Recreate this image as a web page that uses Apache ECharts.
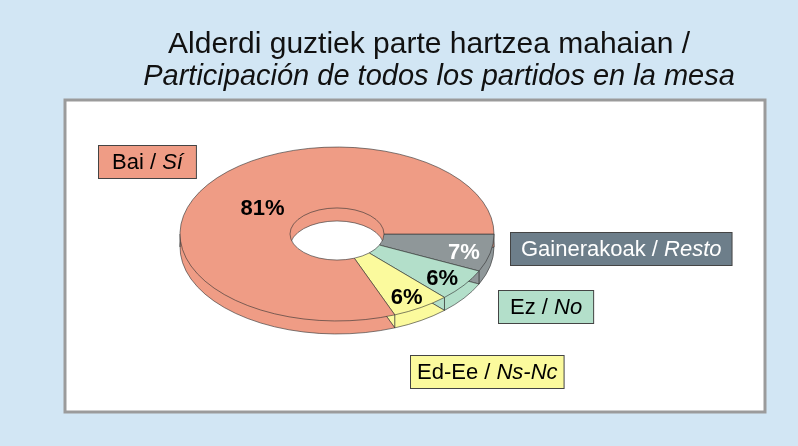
<!DOCTYPE html>
<html>
<head>
<meta charset="utf-8">
<script src="https://cdn.jsdelivr.net/npm/echarts@6/dist/echarts.min.js"></script>
<style>
  html, body { margin: 0; padding: 0; background: #d2e6f4; }
  #chart { width: 798px; height: 446px; }
</style>
</head>
<body>
<div id="chart"></div>
<script>
// slices, clockwise from 3 o'clock
const namesEu = ['Gainerakoak', 'Ez', 'Ed-Ee', 'Bai']
const namesEs = ['Resto', 'No', 'Ns-Nc', 'Sí']
const values = [7, 6, 6, 81]
const colors = ['#8f9799', '#b3dfca', '#fbfa9d', '#ef9c85']
const labelColors = ['#ffffff', '#000000', '#000000', '#000000']

const total = values.reduce((a, b) => a + b, 0)

// donut geometry (tilted ellipse)
const cx = 337, cy = 234, R = 157, r0 = 47
const tilt = 0.554
const depth = 13

function angles(i) {
  let before = 0
  for (let k = 0; k < i; k++) before += values[k]
  const a0 = before / total * Math.PI * 2
  const a1 = (before + values[i]) / total * Math.PI * 2
  return [a0, a1]
}

function sideItem(params, api) {
  const i = params.dataIndex
  const [a0, a1] = angles(i)
  const children = [{
    type: 'group',
    x: cx, y: cy + depth, scaleY: tilt,
    children: [{
      type: 'sector',
      shape: { cx: 0, cy: 0, r: R, r0: r0, startAngle: a0, endAngle: a1, clockwise: true },
      style: { fill: colors[i], stroke: '#333', lineWidth: 0.8, strokeNoScale: true }
    }]
  }]
  // vertical edges of the rim on the front half
  const edges = []
  if (a0 >= 0 && a0 <= Math.PI) edges.push(a0)
  if (a0 < Math.PI && a1 > Math.PI) edges.push(Math.PI)
  edges.forEach(a => {
    const x = cx + R * Math.cos(a)
    const y = cy + tilt * R * Math.sin(a)
    children.push({
      type: 'line',
      shape: { x1: x, y1: y, x2: x, y2: y + depth },
      style: { stroke: '#333', lineWidth: 0.8 }
    })
  })
  return { type: 'group', children: children }
}

function topItem(params, api) {
  const i = params.dataIndex
  const [a0, a1] = angles(i)
  const mid = (a0 + a1) / 2
  const lr = values[i] > 50 ? 90 : 130
  return {
    type: 'group',
    children: [{
      type: 'group',
      x: cx, y: cy, scaleY: tilt,
      children: [{
        type: 'sector',
        shape: { cx: 0, cy: 0, r: R, r0: r0, startAngle: a0, endAngle: a1, clockwise: true },
        style: { fill: colors[i], stroke: '#333', lineWidth: 0.8, strokeNoScale: true }
      }]
    }, {
      type: 'text',
      x: cx + lr * Math.cos(mid),
      y: cy + tilt * lr * Math.sin(mid) + 3,
      style: {
        text: Math.round(api.value(0) / total * 100) + '%',
        fill: labelColors[i],
        font: 'bold 22px "Liberation Sans", Arial, sans-serif',
        align: 'center',
        verticalAlign: 'middle'
      }
    }]
  }
}

function legendBox(i, left, top, txtColor, pad) {
  return {
    type: 'text',
    left: left, top: top,
    z: 10,
    style: {
      text: '{n|' + namesEu[i] + ' / }{i|' + namesEs[i] + '}',
      rich: {
        n: { fill: txtColor, font: '22px "Liberation Sans", Arial, sans-serif' },
        i: { fill: txtColor, font: 'italic 22px "Liberation Sans", Arial, sans-serif' }
      },
      backgroundColor: i === 0 ? '#6d7e8a' : colors[i],
      borderColor: '#444',
      borderWidth: 1,
      padding: [6, pad, 4, pad]
    }
  }
}

const chart = echarts.init(document.getElementById('chart'))
chart.setOption({
  backgroundColor: '#d2e6f4',
  animation: false,
  graphic: [
    {
      type: 'rect', z: 0,
      shape: { x: 65, y: 100, width: 700, height: 312 },
      style: { fill: '#ffffff', stroke: '#9b9b9b', lineWidth: 3 }
    },
    {
      type: 'text', x: 429, y: 45,
      style: {
        text: 'Alderdi guztiek parte hartzea mahaian /',
        fill: '#111', font: '30px "Liberation Sans", Arial, sans-serif',
        align: 'center', verticalAlign: 'middle'
      }
    },
    {
      type: 'text', x: 439, y: 77,
      style: {
        text: 'Participación de todos los partidos en la mesa',
        fill: '#111', font: 'italic 29px "Liberation Sans", Arial, sans-serif',
        align: 'center', verticalAlign: 'middle'
      }
    },
    legendBox(3, 98, 145, '#000', 13),
    legendBox(0, 510, 232, '#ffffff', 10),
    legendBox(1, 498, 290, '#000', 11),
    legendBox(2, 410, 355, '#000', 6)
  ],
  series: [
    {
      type: 'custom',
      coordinateSystem: 'none',
      renderItem: sideItem,
      data: values.map(v => [v]),
      z: 2
    },
    {
      type: 'custom',
      coordinateSystem: 'none',
      renderItem: topItem,
      data: values.map(v => [v]),
      z: 3
    }
  ]
})
</script>
</body>
</html>
